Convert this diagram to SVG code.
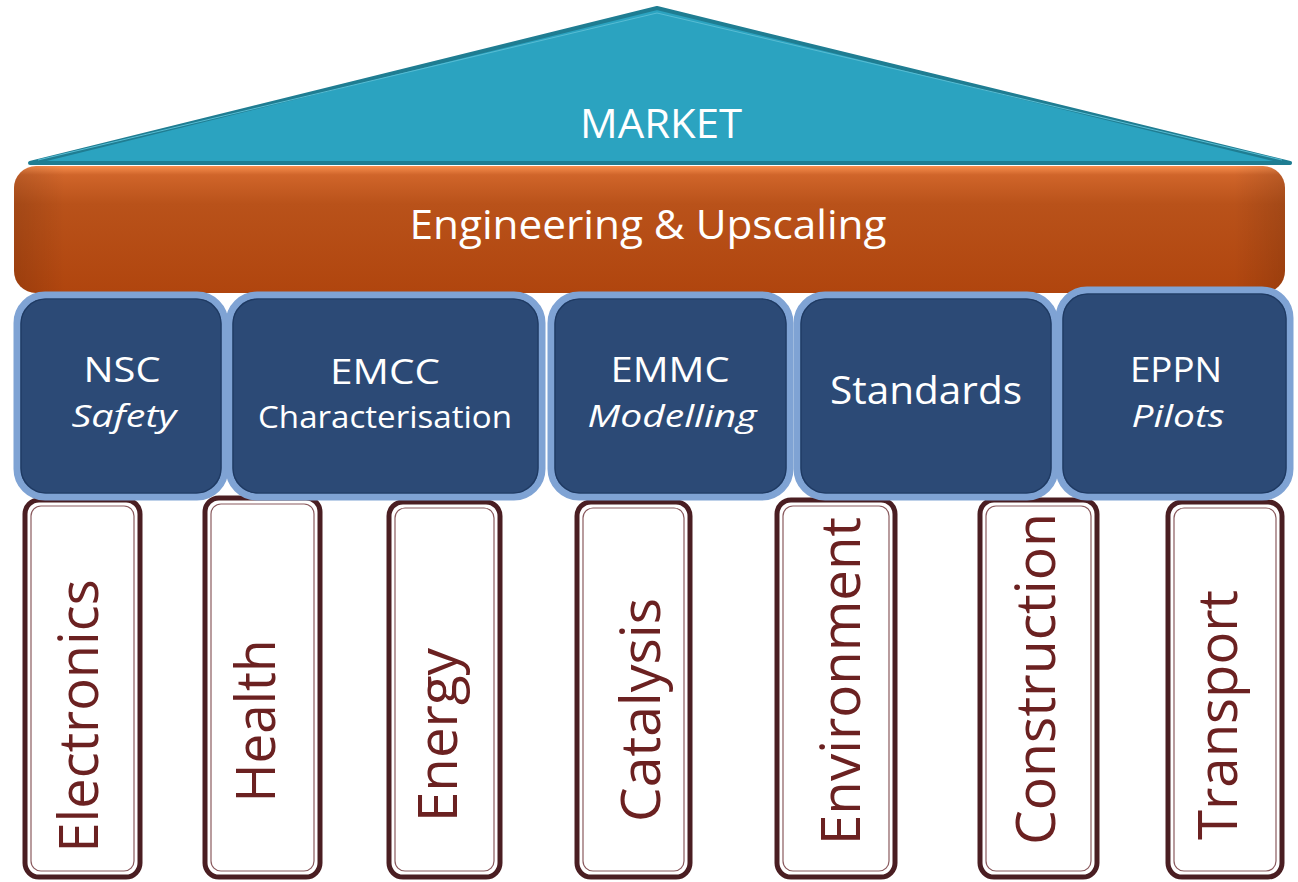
<svg xmlns="http://www.w3.org/2000/svg" width="1298" height="882" viewBox="0 0 1298 882">
<defs>
<linearGradient id="og" x1="0" y1="0" x2="0" y2="1">
<stop offset="0" stop-color="#F88E4E"/>
<stop offset="0.07" stop-color="#D0652A"/>
<stop offset="0.3" stop-color="#B9521A"/>
<stop offset="1" stop-color="#B0450E"/>
</linearGradient>
<linearGradient id="oh" x1="0" y1="0" x2="1" y2="0">
<stop offset="0" stop-color="#000" stop-opacity="0.12"/>
<stop offset="0.04" stop-color="#000" stop-opacity="0"/>
<stop offset="0.96" stop-color="#000" stop-opacity="0"/>
<stop offset="1" stop-color="#000" stop-opacity="0.12"/>
</linearGradient>
</defs>
<style>
.box{fill:#2C4A76;stroke:#7FA3D4;stroke-width:7}
.boxin{fill:none;stroke:#1F3A62;stroke-width:1.2}
.pil{fill:#FFFFFF;stroke:#4A1E22;stroke-width:5}
.pilin{fill:none;stroke:#8A5A5E;stroke-width:1.2}
.wt{font-family:"Open Sans","Liberation Sans",sans-serif;fill:#FFFFFF;text-anchor:middle}
.it{font-style:italic}
.pt{font-family:"Open Sans","Liberation Sans",sans-serif;fill:#6B2121;font-size:55px;text-anchor:middle}
</style>
<g id="roof">
<polygon points="30,163 657,8 1290,163" fill="#2BA3C0" stroke="#1F7D92" stroke-width="4" stroke-linejoin="round"/>
<polyline points="38,160 657,13 1282,160" fill="none" stroke="#57BCD3" stroke-width="1"/>
<text class="wt" x="661" y="138" font-size="40" textLength="162" lengthAdjust="spacingAndGlyphs">MARKET</text>
</g>
<g id="engineering">
<rect x="14" y="166" width="1271" height="127" rx="22" fill="url(#og)"/>
<rect x="14" y="166" width="1271" height="127" rx="22" fill="url(#oh)"/>
<text class="wt" x="648" y="239" font-size="40" textLength="477" lengthAdjust="spacingAndGlyphs">Engineering &amp; Upscaling</text>
</g>
<g id="pillar-electronics">
<rect class="pil" x="25" y="500" width="115" height="377" rx="14"/>
<rect class="pilin" x="31" y="506" width="103" height="365" rx="10"/>
<text class="pt" transform="translate(98,716) rotate(-90)" textLength="273" lengthAdjust="spacingAndGlyphs">Electronics</text>
</g>
<g id="pillar-health">
<rect class="pil" x="205" y="498" width="115" height="379" rx="14"/>
<rect class="pilin" x="211" y="504" width="103" height="367" rx="10"/>
<text class="pt" transform="translate(275,721) rotate(-90)" textLength="163" lengthAdjust="spacingAndGlyphs">Health</text>
</g>
<g id="pillar-energy">
<rect class="pil" x="389" y="502" width="111" height="375" rx="14"/>
<rect class="pilin" x="395" y="508" width="99" height="363" rx="10"/>
<text class="pt" transform="translate(457,735) rotate(-90)" textLength="174" lengthAdjust="spacingAndGlyphs">Energy</text>
</g>
<g id="pillar-catalysis">
<rect class="pil" x="577" y="502" width="113" height="375" rx="14"/>
<rect class="pilin" x="583" y="508" width="101" height="363" rx="10"/>
<text class="pt" transform="translate(660,710) rotate(-90)" textLength="224" lengthAdjust="spacingAndGlyphs">Catalysis</text>
</g>
<g id="pillar-environment">
<rect class="pil" x="777" y="500" width="118" height="377" rx="14"/>
<rect class="pilin" x="783" y="506" width="106" height="365" rx="10"/>
<text class="pt" transform="translate(860,681) rotate(-90)" textLength="328" lengthAdjust="spacingAndGlyphs">Environment</text>
</g>
<g id="pillar-construction">
<rect class="pil" x="980" y="500" width="117" height="377" rx="14"/>
<rect class="pilin" x="986" y="506" width="105" height="365" rx="10"/>
<text class="pt" transform="translate(1055,679) rotate(-90)" textLength="332" lengthAdjust="spacingAndGlyphs">Construction</text>
</g>
<g id="pillar-transport">
<rect class="pil" x="1168" y="502" width="114" height="375" rx="14"/>
<rect class="pilin" x="1174" y="508" width="102" height="363" rx="10"/>
<text class="pt" transform="translate(1237,715) rotate(-90)" textLength="250" lengthAdjust="spacingAndGlyphs">Transport</text>
</g>
<g id="box-nsc">
<rect class="box" x="17" y="295" width="208" height="202" rx="28"/>
<rect class="boxin" x="21" y="299" width="200" height="194" rx="25"/>
<text class="wt" x="122" y="382" font-size="35" textLength="77" lengthAdjust="spacingAndGlyphs">NSC</text>
<text class="wt it" x="124" y="427" font-size="31" textLength="105" lengthAdjust="spacingAndGlyphs">Safety</text>
</g>
<g id="box-emcc">
<rect class="box" x="229" y="295" width="313" height="202" rx="28"/>
<rect class="boxin" x="233" y="299" width="305" height="194" rx="25"/>
<text class="wt" x="385" y="384" font-size="35" textLength="110" lengthAdjust="spacingAndGlyphs">EMCC</text>
<text class="wt" x="385" y="428" font-size="31" textLength="254" lengthAdjust="spacingAndGlyphs">Characterisation</text>
</g>
<g id="box-emmc">
<rect class="box" x="551" y="295" width="239" height="202" rx="28"/>
<rect class="boxin" x="555" y="299" width="231" height="194" rx="25"/>
<text class="wt" x="670" y="382" font-size="35" textLength="119" lengthAdjust="spacingAndGlyphs">EMMC</text>
<text class="wt it" x="672" y="427" font-size="31" textLength="169" lengthAdjust="spacingAndGlyphs">Modelling</text>
</g>
<g id="box-standards">
<rect class="box" x="797" y="295" width="258" height="202" rx="28"/>
<rect class="boxin" x="801" y="299" width="250" height="194" rx="25"/>
<text class="wt" x="926" y="404" font-size="39" textLength="192" lengthAdjust="spacingAndGlyphs">Standards</text>
</g>
<g id="box-eppn">
<rect class="box" x="1059" y="290" width="231" height="207" rx="28"/>
<rect class="boxin" x="1063" y="294" width="223" height="199" rx="25"/>
<text class="wt" x="1176" y="382" font-size="35" textLength="92" lengthAdjust="spacingAndGlyphs">EPPN</text>
<text class="wt it" x="1178" y="427" font-size="31" textLength="93" lengthAdjust="spacingAndGlyphs">Pilots</text>
</g>
<g id="connectors"/>
</svg>
